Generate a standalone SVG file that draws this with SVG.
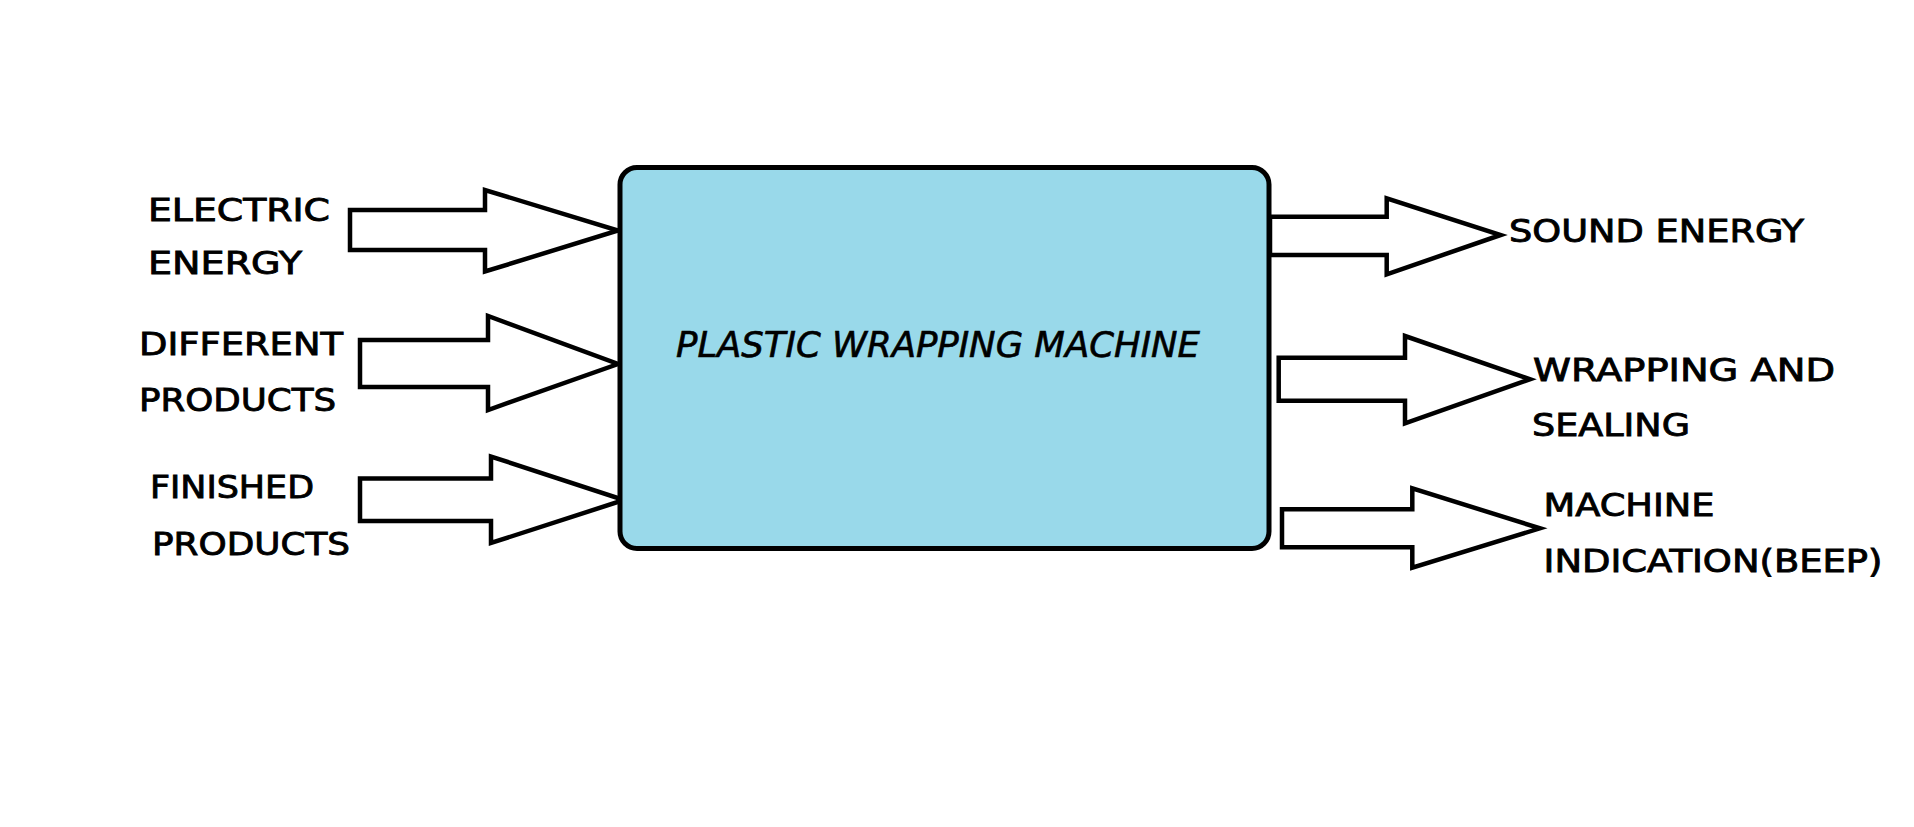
<svg xmlns="http://www.w3.org/2000/svg" width="1914" height="827" viewBox="0 0 1914 827">
<style>
.arrow{fill:#ffffff;stroke:#000000;stroke-width:4.5;stroke-linejoin:miter}
.box{fill:#99d9ea;stroke:#000000;stroke-width:5}
.lbl{font-family:"DejaVu Sans","Liberation Sans",sans-serif;font-size:32px;fill:#000000;stroke:#000000;stroke-width:0.9}
.title{font-family:"DejaVu Sans Condensed","DejaVu Sans",sans-serif;font-style:italic;font-size:36px;fill:#000000;stroke:#000000;stroke-width:0.6}
</style>
<rect width="1914" height="827" fill="#ffffff"/>
<g id="connectors">
<polygon class="arrow" points="350,210 485,210 485,190 618,230.5 485,271.5 485,250 350,250"/>
<polygon class="arrow" points="360,340 488,340 488,316 618,364 488,410 488,387 360,387"/>
<polygon class="arrow" points="360,478.5 491,478.5 491,456.5 624,500 491,543 491,521 360,521"/>
<polygon class="arrow" points="1270,216.7 1386.7,216.7 1386.7,198.3 1500.7,235 1386.7,274.3 1386.7,255 1270,255"/>
<polygon class="arrow" points="1278.7,357.7 1405,357.7 1405,336 1530,379.3 1405,423.3 1405,400.7 1278.7,400.7"/>
<polygon class="arrow" points="1282,509.3 1412.3,509.3 1412.3,488.3 1540,528.3 1412.3,567.7 1412.3,547.3 1282,547.3"/>
</g>
<g id="machine">
<rect class="box" x="620" y="167.5" width="649" height="381" rx="17" ry="17"/>
<text class="title" x="676" y="357" textLength="524" lengthAdjust="spacingAndGlyphs">PLASTIC WRAPPING MACHINE</text>
</g>
<g id="in-electric-energy">
<text class="lbl" x="148" y="220.5" textLength="182" lengthAdjust="spacingAndGlyphs">ELECTRIC</text>
<text class="lbl" x="148" y="274" textLength="154" lengthAdjust="spacingAndGlyphs">ENERGY</text>
</g>
<g id="in-different-products">
<text class="lbl" x="139" y="355" textLength="204" lengthAdjust="spacingAndGlyphs">DIFFERENT</text>
<text class="lbl" x="139" y="411" textLength="197" lengthAdjust="spacingAndGlyphs">PRODUCTS</text>
</g>
<g id="in-finished-products">
<text class="lbl" x="150" y="498" textLength="164" lengthAdjust="spacingAndGlyphs">FINISHED</text>
<text class="lbl" x="152" y="555" textLength="198" lengthAdjust="spacingAndGlyphs">PRODUCTS</text>
</g>
<g id="out-sound-energy">
<text class="lbl" x="1509" y="242" textLength="295" lengthAdjust="spacingAndGlyphs">SOUND ENERGY</text>
</g>
<g id="out-wrapping-sealing">
<text class="lbl" x="1533" y="380.5" textLength="302" lengthAdjust="spacingAndGlyphs">WRAPPING AND</text>
<text class="lbl" x="1532" y="436" textLength="158" lengthAdjust="spacingAndGlyphs">SEALING</text>
</g>
<g id="out-machine-indication">
<text class="lbl" x="1543.5" y="516" textLength="171" lengthAdjust="spacingAndGlyphs">MACHINE</text>
<text class="lbl" x="1543.5" y="571.5" textLength="339" lengthAdjust="spacingAndGlyphs">INDICATION(BEEP)</text>
</g>
</svg>
